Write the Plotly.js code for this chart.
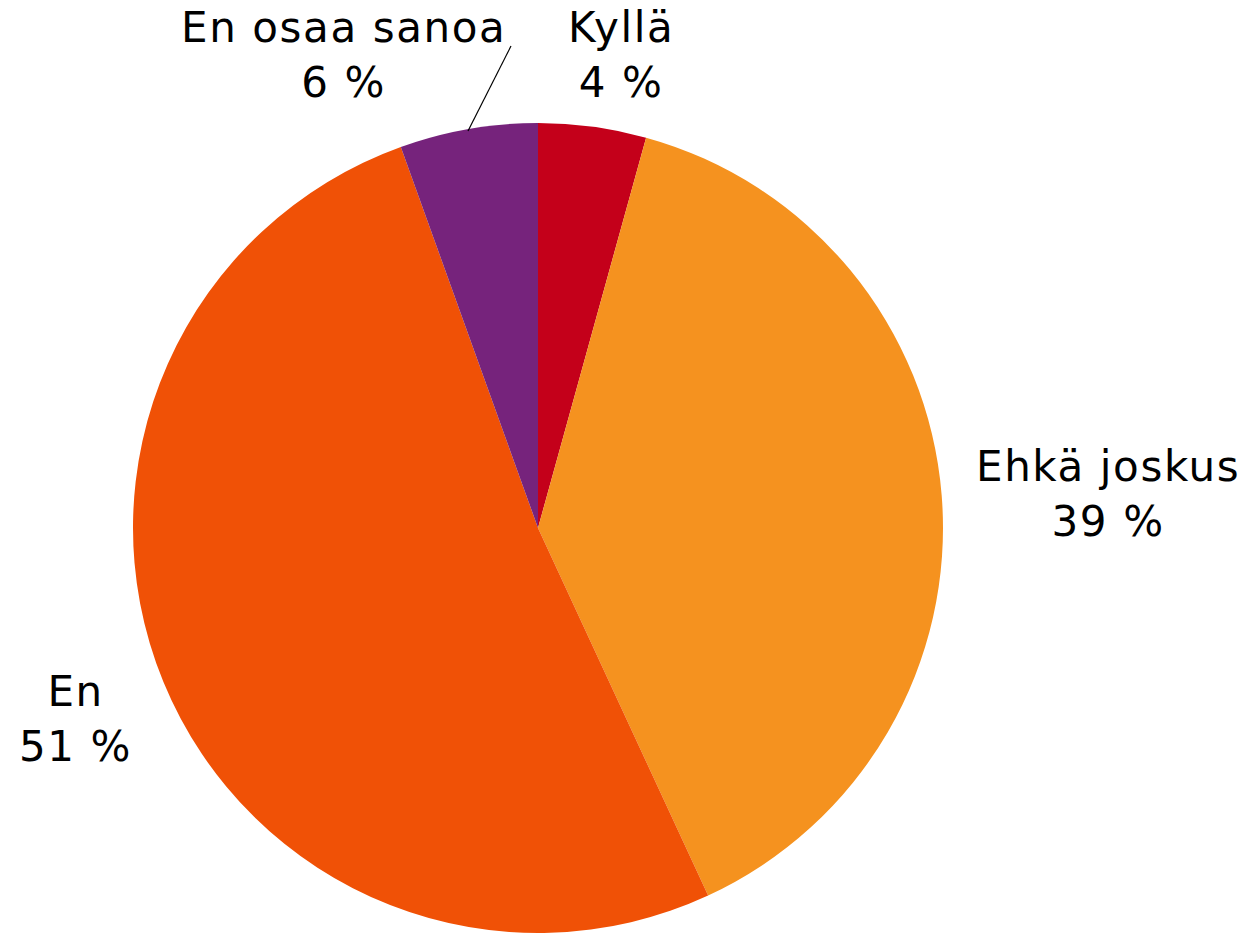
<!DOCTYPE html>
<html>
<head>
<meta charset="utf-8">
<script src="https://cdn.plot.ly/plotly-3.0.1.min.js"></script>
<style>
html,body{margin:0;padding:0;background:#fff;}
#chart{width:1259px;height:934px;}
.annotation-text{letter-spacing:1.6px;}
</style>
</head>
<body>
<div id="chart"></div>
<script>
var categories = ["Kyllä", "Ehkä joskus", "En", "En osaa sanoa"];
var values = [4.3, 38.8, 51.4, 5.5];
var percentLabels = ["4 %", "39 %", "51 %", "6 %"];
var colors = ["#C4001A", "#F5921F", "#F05106", "#76237C"];

var W = 1259, H = 934;
var cx = 538, cy = 528, R = 405;
// label block centers (pixels)
var labelPos = [[621, 55], [1108, 494], [75, 719], [343, 55]];

var trace = {
  type: "pie",
  labels: categories,
  values: values,
  sort: false,
  direction: "clockwise",
  rotation: 0,
  textinfo: "none",
  hoverinfo: "label+percent",
  marker: {colors: colors, line: {width: 0}},
  domain: {x: [(cx - R) / W, (cx + R) / W], y: [(H - cy - R) / H, (H - cy + R) / H]},
  showlegend: false
};

var annotations = categories.map(function (c, i) {
  return {
    text: c + "<br>" + percentLabels[i],
    xref: "paper", yref: "paper",
    x: labelPos[i][0] / W, y: 1 - labelPos[i][1] / H,
    xanchor: "center", yanchor: "middle",
    showarrow: false,
    font: {family: "DejaVu Sans, Verdana, sans-serif", size: 42, color: "#000"}
  };
});

var layout = {
  width: W, height: H,
  margin: {l: 0, r: 0, t: 0, b: 0},
  paper_bgcolor: "#fff",
  plot_bgcolor: "#fff",
  annotations: annotations,
  shapes: [{
    type: "line", xref: "paper", yref: "paper",
    x0: 468 / W, y0: 1 - 131 / H, x1: 511 / W, y1: 1 - 46 / H,
    line: {color: "#000", width: 1.2}
  }]
};

Plotly.newPlot("chart", [trace], layout, {displayModeBar: false, staticPlot: true});
</script>
</body>
</html>
